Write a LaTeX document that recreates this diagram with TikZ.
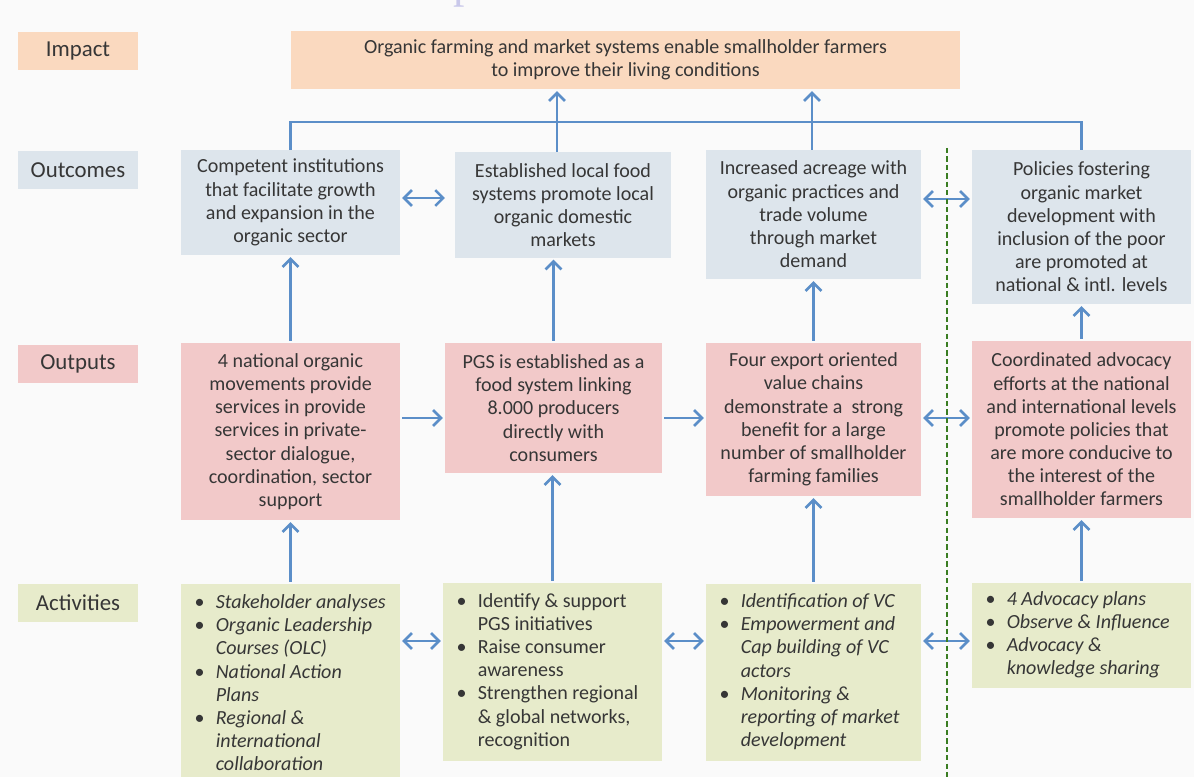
\documentclass[tikz,border=0pt]{standalone}
\usepackage{fontspec}
\setmainfont{Carlito}
\newfontfamily\serifttl{Liberation Serif}
\usetikzlibrary{arrows.meta,calc}
\definecolor{bg}{HTML}{FAFAFA}
\definecolor{peach}{HTML}{FAD9BF}
\definecolor{bluegray}{HTML}{DDE5EC}
\definecolor{pinkc}{HTML}{F2C9C9}
\definecolor{greenc}{HTML}{E7EBCB}
\definecolor{arrowc}{HTML}{5B8EC8}
\definecolor{dashc}{HTML}{3A7D22}
\definecolor{txt}{HTML}{363636}
\definecolor{lav}{HTML}{C9C8EA}
\newcommand\mybul{\makebox[12.1pt][l]{\textbullet}}
\newcommand\myind{\hspace{12.1pt}}
\begin{document}
\begin{tikzpicture}[x=0.02cm,y=-0.02cm,
  box/.style n args={2}{minimum width=#1*0.02cm, minimum height=#2*0.02cm, inner sep=0pt, text=txt, font=\fontsize{11.4}{13.2}\selectfont, align=center},
  lab/.style={box={120}{38}, font=\fontsize{13}{15}\selectfont},
  ln/.style={draw=arrowc, line width=1.5pt},
  arr/.style={ln, -{Straight Barb[length=4.5pt,width=9pt]}, shorten <=1pt, shorten >=1pt},
  darr/.style={ln, {Straight Barb[length=4.5pt,width=9pt]}-{Straight Barb[length=4.5pt,width=9pt]}, shorten <=1pt, shorten >=1pt},
  dashline/.style={draw=dashc, line width=1.6pt, dash pattern=on 3pt off 1.8pt}
]
\useasboundingbox (0,0) rectangle (1194,777);
\clip (0,0) rectangle (1194,777);
\fill[bg] (0,0) rectangle (1194,777);
\node[text=lav, font=\fontsize{26}{26}\serifttl, anchor=base, inner sep=0pt] (ttl) at (465,-2) {p};

% row labels
\node[lab, fill=peach] (limp) at (78,51) {Impact};
\node[lab, fill=bluegray] (lout) at (78,170) {Outcomes};
\node[lab, fill=pinkc] (lop) at (78,364) {Outputs};
\node[lab, fill=greenc] (lact) at (78,603) {Activities};

% impact
\node[box={669}{58}, fill=peach] (imp) at (625.5,60) {Organic farming and market systems enable smallholder farmers\\to improve their living conditions};

% outcomes
\node[box={219}{105}, fill=bluegray] (o1) at (290.5,202.5) {Competent institutions\\that facilitate growth\\and expansion in the\\organic sector};
\node[box={216}{105}, fill=bluegray] (o2) at (563,205) {Established local food\\systems promote local\\organic domestic\\markets};
\node[box={215}{129}, fill=bluegray] (o3) at (813.5,214.5) {Increased acreage with\\organic practices and\\trade volume\\through market\\demand};
\node[box={219}{154}, fill=bluegray] (o4) at (1081.5,227) {Policies fostering\\organic market\\development with\\inclusion of the poor\\are promoted at\\national \& intl. levels};

% outputs
\node[box={219}{177}, fill=pinkc] (p1) at (290.5,431.5) {4 national organic\\movements provide\\services in provide\\services in private-\\sector dialogue,\\coordination, sector\\support};
\node[box={217}{130}, fill=pinkc] (p2) at (553.5,408) {PGS is established as a\\food system linking\\8.000 producers\\directly with\\consumers};
\node[box={215}{153}, fill=pinkc] (p3) at (813.5,419.5) {Four export oriented\\value chains\\demonstrate a\ \ strong\\benefit for a large\\number of smallholder\\farming families};
\node[box={219}{177}, fill=pinkc] (p4) at (1081.5,429.5) {Coordinated advocacy\\efforts at the national\\and international levels\\promote policies that\\are more conducive to\\the interest of the\\smallholder farmers};

% activities
\node[box={219}{202}, fill=greenc] (a1) at (290.5,685) {\makebox[4.38cm][l]{\begin{tabular}{@{\hspace{7.7pt}}l@{}}
\mybul\textit{Stakeholder analyses}\\
\mybul\textit{Organic Leadership}\\
\myind\textit{Courses (OLC)}\\
\mybul\textit{National Action}\\
\myind\textit{Plans}\\
\mybul\textit{Regional \&}\\
\myind\textit{international}\\
\myind\textit{collaboration}
\end{tabular}}};
\node[box={219}{178}, fill=greenc] (a2) at (552.5,672) {\makebox[4.38cm][l]{\begin{tabular}{@{\hspace{7.7pt}}l@{}}
\mybul Identify \& support\\
\myind PGS initiatives\\
\mybul Raise consumer\\
\myind awareness\\
\mybul Strengthen regional\\
\myind \& global networks,\\
\myind recognition
\end{tabular}}};
\node[box={215}{177}, fill=greenc] (a3) at (813.5,672.5) {\makebox[4.30cm][l]{\begin{tabular}{@{\hspace{7.7pt}}l@{}}
\mybul\textit{Identification of VC}\\
\mybul\textit{Empowerment and}\\
\myind\textit{Cap building of VC}\\
\myind\textit{actors}\\
\mybul\textit{Monitoring \&}\\
\myind\textit{reporting of market}\\
\myind\textit{development}
\end{tabular}}};
\node[box={219}{105}, fill=greenc] (a4) at (1081.5,635.5) {\makebox[4.38cm][l]{\begin{tabular}{@{\hspace{7.7pt}}l@{}}
\mybul\textit{4 Advocacy plans}\\
\mybul\textit{Observe \& Influence}\\
\mybul\textit{Advocacy \&}\\
\myind\textit{knowledge sharing}
\end{tabular}}};

% bus to impact
\coordinate (bus) at (0,122);
\coordinate (c2) at (557,122);
\coordinate (c3) at (812,122);
\draw[ln] (o1.north) -- (o1.north |- bus) -- (o4.north |- bus) -- (o4.north);
\draw[ln] (c2) -- (c2 |- o2.north);
\draw[ln] (c3) -- (c3 |- o3.north);
\draw[arr, shorten <=0pt] (c2) -- (c2 |- imp.south);
\draw[arr, shorten <=0pt] (c3) -- (c3 |- imp.south);

% vertical arrows
\draw[arr] (p1.north) -- (o1.south);
\draw[arr] (p2.north) -- (p2.north |- o2.south);
\draw[arr] (p3.north) -- (o3.south);
\draw[arr] (p4.north) -- (o4.south);
\draw[arr] (a1.north) -- (p1.south);
\draw[arr] (a2.north) -- (a2.north |- p2.south);
\draw[arr] (a3.north) -- (p3.south);
\draw[arr] (a4.north) -- (p4.south);

% horizontal arrows
\coordinate (yo1) at (0,198);
\coordinate (yo2) at (0,199);
\coordinate (yp) at (0,418);
\coordinate (ya) at (0,641);
\draw[darr, shorten >=5.5pt] (o1.east |- yo1) -- (o2.west |- yo1);
\draw[darr] (o3.east |- yo2) -- (o4.west |- yo2);
\draw[arr] (p1.east |- yp) -- (p2.west |- yp);
\draw[arr] (p2.east |- yp) -- (p3.west |- yp);
\draw[darr] (p3.east |- yp) -- (p4.west |- yp);
\draw[darr] (a1.east |- ya) -- (a2.west |- ya);
\draw[darr] (a2.east |- ya) -- (a3.west |- ya);
\draw[darr] (a3.east |- ya) -- (a4.west |- ya);

% separator
\coordinate (dtop) at (947,148);
\coordinate (dbot) at (947,777);
\draw[dashline] (dtop) -- (dbot);
\end{tikzpicture}
\end{document}
